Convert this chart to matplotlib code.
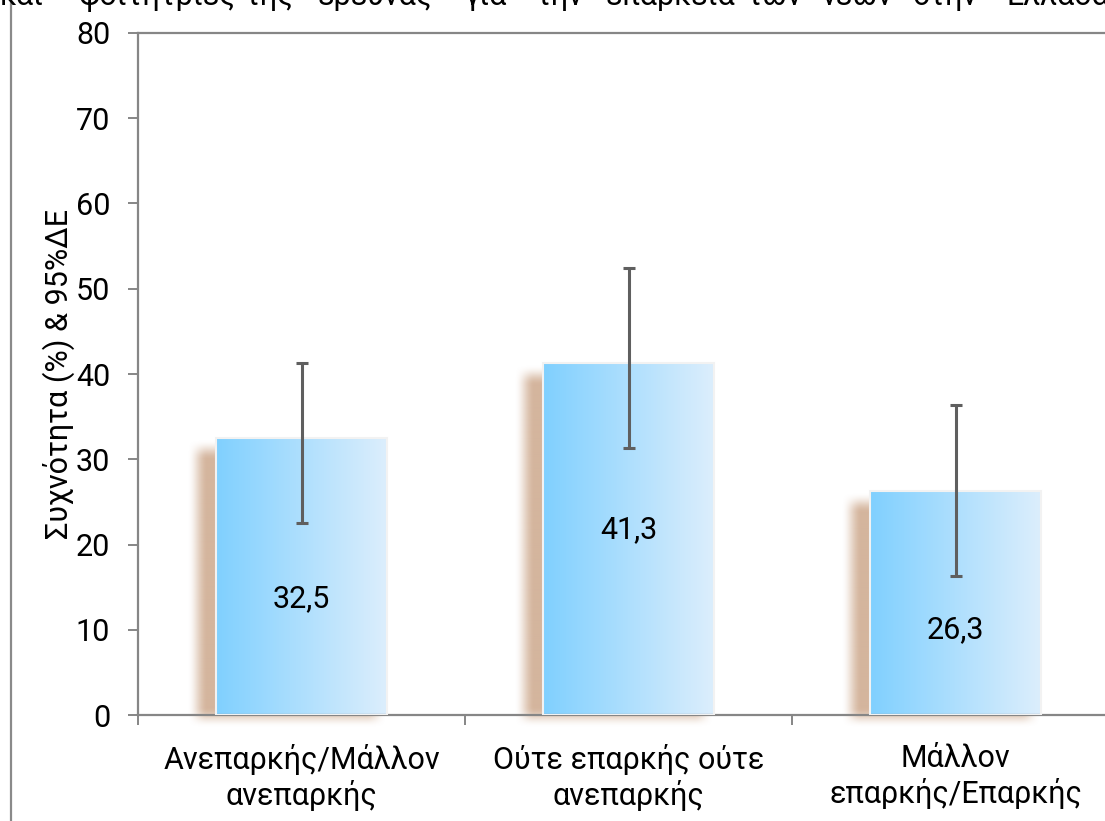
import numpy as np
import matplotlib
matplotlib.use("Agg")
import matplotlib.pyplot as plt
from matplotlib.patches import Rectangle

plt.rcParams['font.family'] = ['Roboto', 'Noto Sans', 'DejaVu Sans']

# ---- data ----
categories = ["Ανεπαρκής/Μάλλον\nανεπαρκής",
              "Ούτε επαρκής ούτε\nανεπαρκής",
              "Μάλλον\nεπαρκής/Επαρκής"]
values = [32.5, 41.3, 26.3]
ci_low = [22.5, 31.3, 16.3]
ci_high = [41.3, 52.4, 36.4]
value_labels = ["32,5", "41,3", "26,3"]
y_ticks = [0, 10, 20, 30, 40, 50, 60, 70, 80]
y_label = "Συχνότητα (%) & 95%ΔΕ"
header_words = ["και", "φοιτήτριες", "της", "έρευνας", "για", "την",
                "επάρκεια", "των", "νέων", "στην", "Ελλάδα"]

FS = 22
W, H = 1105, 821
fig = plt.figure(figsize=(W / 100, H / 100), dpi=100)
fig.patch.set_facecolor("white")

# cropped header line at the very top (as in the reference)
header_cx = [22, 158, 270, 375, 485, 560, 670, 775, 857, 945, 1058]
for wx, w in zip(header_cx, header_words):
    fig.text(wx / W, 1 - 5 / H, w, fontsize=FS, ha="center", va="baseline",
             color="black")

# outer frame
frame = Rectangle((11 / W, -0.2), 1.2, 1.2 + (1 - 13 / H), transform=fig.transFigure,
                  fill=False, edgecolor="#8a8a8a", linewidth=1.6, clip_on=False)
fig.patches.append(frame)

left, right = 138 / W, 1119 / W
bottom, top = 1 - 715 / H, 1 - 33 / H
ax = fig.add_axes([left, bottom, right - left, top - bottom])
ax.set_xlim(0, 3)
ax.set_ylim(0, 80)
ax.patch.set_alpha(0)

grey = "#868686"
for s in ["left", "bottom", "top", "right"]:
    ax.spines[s].set_color(grey)
    ax.spines[s].set_linewidth(1.6)

ax.set_yticks(y_ticks)
ax.set_yticklabels([str(t) for t in y_ticks], fontsize=FS)
ax.tick_params(axis="y", length=7, width=1.4, color=grey, pad=13)
ax.set_xticks([0, 1, 2, 3])
ax.set_xticklabels([])
ax.set_xticks([0.5, 1.5, 2.5], minor=True)
ax.set_xticklabels(categories, minor=True, fontsize=FS, linespacing=1.2)
ax.tick_params(axis="x", which="major", length=7, width=1.4, color=grey)
ax.tick_params(axis="x", which="minor", length=0, pad=21)
ax.set_ylabel(y_label, fontsize=FS)
ax.yaxis.set_label_coords(-0.064, 0.5)

bw = 0.52
px_x = 3 / (1119 - 138)
px_y = 80 / (715 - 33)

# gradient
ncol = 256
t = np.linspace(0, 1, ncol)
c0 = np.array([128, 208, 255]) / 255
c1 = np.array([220, 238, 252]) / 255
grad = (c0[None, :] * (1 - t[:, None]) + c1[None, :] * t[:, None])[None, :, :]

shadow_rgb = np.array([205, 168, 140]) / 255

def smooth(v):
    v = np.clip(v, 0, 1)
    return v * v * (3 - 2 * v)

for i, v in enumerate(values):
    xc = i + 0.5
    L, R = xc - bw / 2, xc + bw / 2
    # shadow (blurred)
    sx0, sx1 = L - 19 * px_x, R - 10 * px_x
    sy0, sy1 = -3 * px_y, v - 12 * px_y
    blur_x, blur_y = 10 * px_x, 10 * px_y
    gx = np.linspace(sx0 - blur_x, sx1 + blur_x, 200)
    gy = np.linspace(sy0 - blur_y, sy1 + blur_y, 200)
    ax_ = smooth((gx - (sx0 - blur_x)) / (2 * blur_x)) * smooth(((sx1 + blur_x) - gx) / (2 * blur_x))
    ay_ = smooth((gy - (sy0 - blur_y)) / (2 * blur_y)) * smooth(((sy1 + blur_y) - gy) / (2 * blur_y))
    alpha = ay_[:, None] * ax_[None, :] * 0.85
    img = np.zeros((200, 200, 4))
    img[..., :3] = shadow_rgb
    img[..., 3] = alpha
    ax.imshow(img, extent=[gx[0], gx[-1], gy[0], gy[-1]], origin="lower",
              aspect="auto", zorder=1, interpolation="bilinear", clip_on=False)
    # bar body with gradient
    rect = Rectangle((L, 0), bw, v, facecolor="none", edgecolor="#f2f2f2",
                     linewidth=1.5, zorder=3)
    ax.add_patch(rect)
    im = ax.imshow(grad, extent=[L, R, 0, v], origin="lower", aspect="auto",
                   zorder=2, interpolation="bilinear")
    im.set_clip_path(rect)

# error bars
xs = np.arange(3) + 0.5
yerr = [np.array(values) - np.array(ci_low), np.array(ci_high) - np.array(values)]
ax.errorbar(xs, values, yerr=yerr, fmt="none", ecolor="#5f5f5f", elinewidth=2.2,
            capsize=4.5, capthick=2.2, zorder=4)

# value labels (placed as in reference)
label_y = [13.7, 21.7, 10.0]
for x, ly, s in zip(xs, label_y, value_labels):
    ax.text(x, ly, s, ha="center", va="center", fontsize=FS, zorder=5)

ax.set_xlim(0, 3)
ax.set_ylim(0, 80)
fig.savefig("out.png", dpi=100)
